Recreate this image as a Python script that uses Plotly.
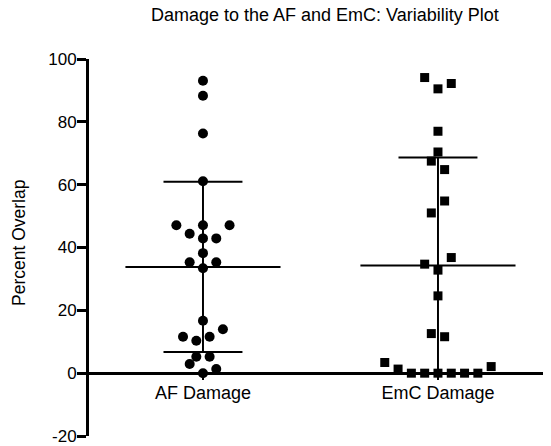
import numpy as np
import plotly.graph_objects as go

# ---- data ----
title_text = "Damage to the AF and EmC: Variability Plot"
y_title = "Percent Overlap"
categories = ["AF Damage", "EmC Damage"]
y_ticks = [-20, 0, 20, 40, 60, 80, 100]
y_tick_labels = ["-20", "0", "20", "40", "60", "80", "100"]

af_values = [93.1, 88.3, 76.3, 61.1, 47.1, 47.1, 47.1, 44.4, 42.9, 42.9, 38.2,
             35.3, 35.3, 33.4, 16.7, 14.0, 11.6, 11.6, 10.3, 5.2, 5.2, 2.9, 1.3, 0.0]
# beeswarm slot of each point (left/right of the column centre)
af_slot = [0, 0, 0, 0, -2, 0, 2, -1, 0, 1, 0,
           -1, 1, 0, 0, 1.5, -1.5, 0.5, -0.5, -0.5, 0.5, -1, 1, 0]

emc_values = [94.1, 90.5, 92.2, 77.0, 70.4, 67.5, 64.8, 54.8, 51.0, 36.8, 34.7,
              32.8, 24.6, 12.6, 11.6, 3.4, 1.3, 0.0, 0.0, 0.0, 0.0, 0.0, 0.0, 2.1]
emc_slot = [-1, 0, 1, 0, 0, -0.5, 0.5, 0.5, -0.5, 1, -1,
            0, 0, -0.5, 0.5, -4, -3, -2, -1, 0, 1, 2, 3, 4]

# ---- layout constants (figure sits 8px into the page because of body margin) ----
SLOT = 0.0566          # horizontal spacing of one beeswarm slot (category units)
MEAN_HALF = 0.33       # half width of the mean line
CAP_HALF = 0.168       # half width of the SD caps
FONT = "Liberation Sans, Arial, Helvetica, sans-serif"
FW, FH = 543, 438
L, T, W, H = 81, 50.5, 462, 378

fig = go.Figure()

series = [(1, af_values, af_slot, "circle", 10),
          (2, emc_values, emc_slot, "square", 9)]

for cx, vals, slots, sym, size in series:
    v = np.array(vals)
    m = v.mean()
    sd = v.std(ddof=1)
    lo, hi = m - sd, m + sd
    fig.add_trace(go.Scatter(x=[cx, cx], y=[lo, hi], mode="lines",
                             line=dict(color="black", width=2), hoverinfo="skip"))
    for yv in (lo, hi):
        fig.add_trace(go.Scatter(x=[cx - CAP_HALF, cx + CAP_HALF], y=[yv, yv], mode="lines",
                                 line=dict(color="black", width=2), hoverinfo="skip"))
    fig.add_trace(go.Scatter(x=[cx - MEAN_HALF, cx + MEAN_HALF], y=[m, m], mode="lines",
                             line=dict(color="black", width=2), hoverinfo="skip"))
    xs = [cx + s * SLOT for s in slots]
    fig.add_trace(go.Scatter(x=xs, y=vals, mode="markers",
                             marker=dict(symbol=sym, size=size, color="black",
                                         line=dict(width=0))))

fig.update_layout(
    width=FW, height=FH,
    margin=dict(l=L, r=FW - L - W, t=T, b=FH - T - H, pad=0),
    paper_bgcolor="white", plot_bgcolor="white",
    showlegend=False,
    font=dict(family=FONT, color="black"),
    xaxis=dict(range=[0.515, 2.481], tickvals=[1, 2], ticktext=categories,
               showgrid=False, zeroline=False, showline=True, linecolor="black",
               linewidth=3, ticks="outside", ticklen=5, tickwidth=2, tickcolor="black",
               ticklabelstandoff=-3,
               tickfont=dict(size=18, family=FONT, color="black"),
               anchor="free", position=20 / 120),
    yaxis=dict(range=[-20, 100], tickvals=y_ticks, ticktext=y_tick_labels,
               showgrid=False, zeroline=False,
               showline=True, linecolor="black", linewidth=3, ticks="outside",
               ticklen=9, tickwidth=2.5, tickcolor="black", ticklabelstandoff=-3,
               ticklabeloverflow="allow",
               tickfont=dict(size=17, family=FONT, color="black")),
    annotations=[
        dict(text=title_text, xref="paper", yref="paper",
             x=(317 - L) / W, y=1 - (6 - T) / H, xanchor="center", yanchor="middle",
             showarrow=False, font=dict(size=18, family=FONT, color="black")),
        dict(text=y_title, xref="paper", yref="paper", textangle=-90,
             x=(10.5 - L) / W, y=1 - (235.5 - T) / H, xanchor="center", yanchor="middle",
             showarrow=False, font=dict(size=17.5, family=FONT, color="black")),
    ],
)

fig.write_html("out.html")
